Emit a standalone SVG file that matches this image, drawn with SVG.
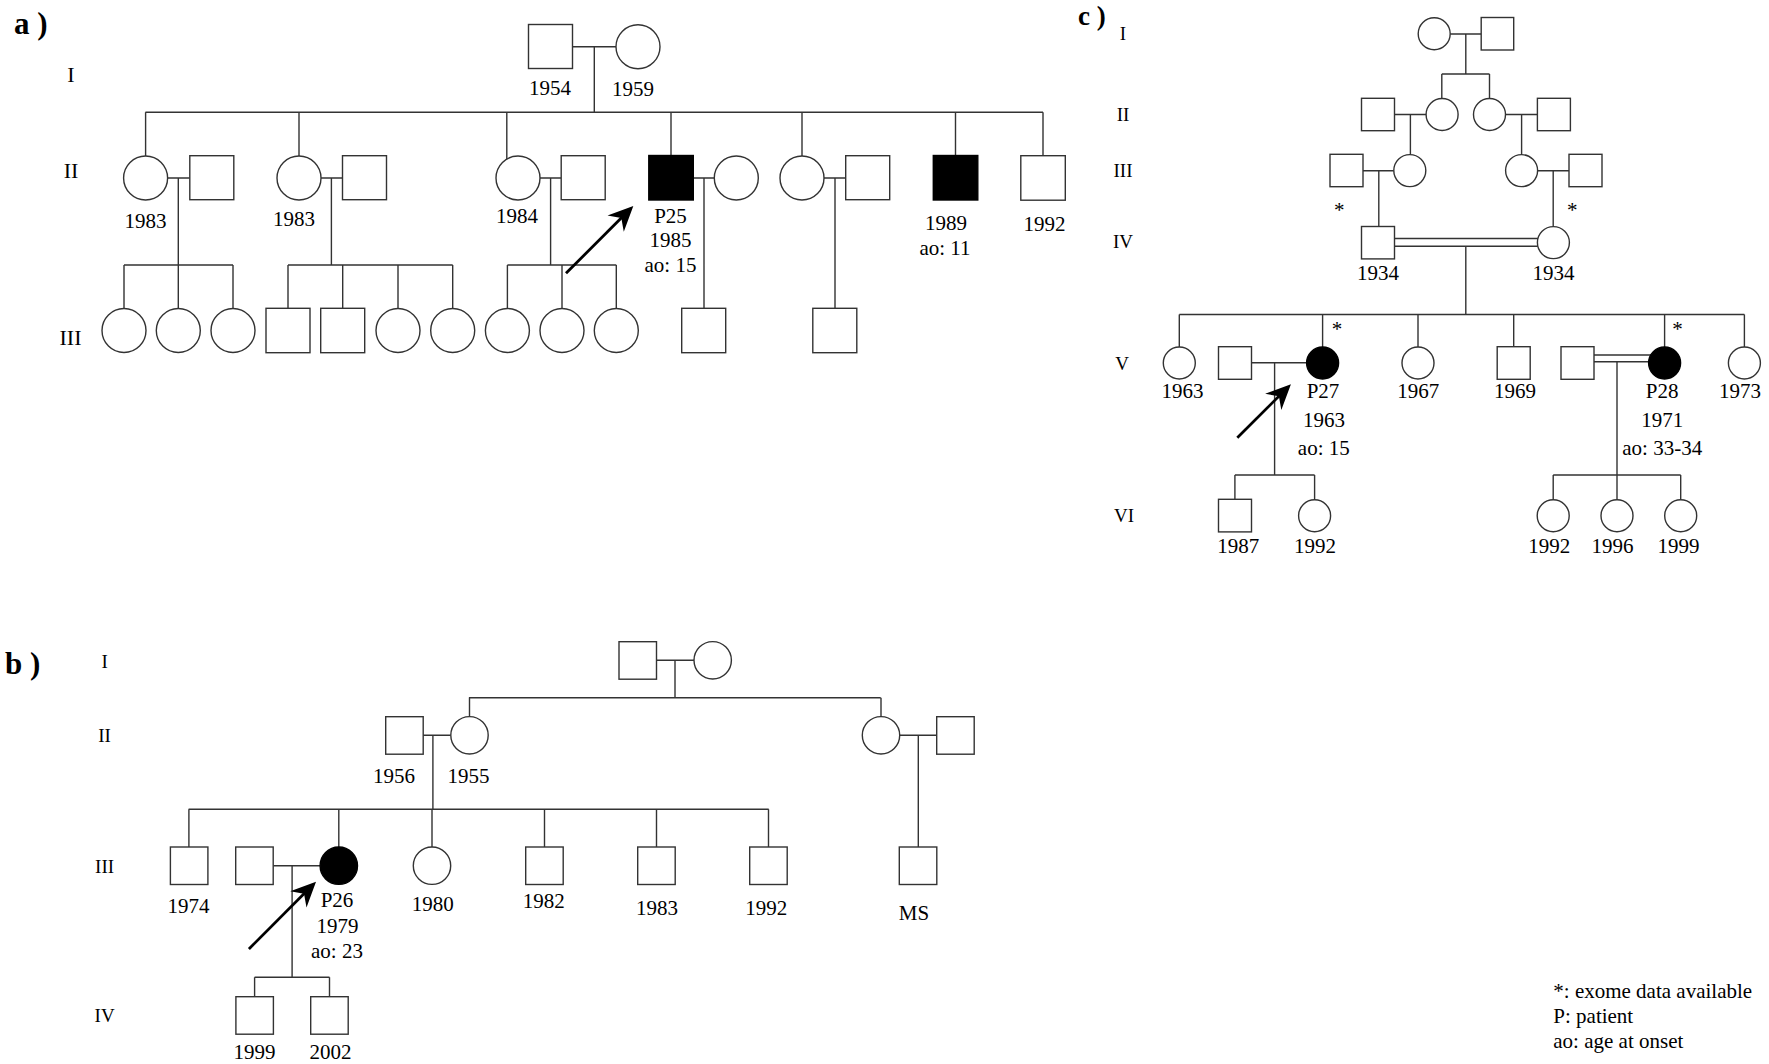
<svg xmlns="http://www.w3.org/2000/svg" width="1769" height="1064" viewBox="0 0 1769 1064">
<style>
.ln{stroke:#333;stroke-width:1.4;fill:none}
.nd{fill:#fff;stroke:#333;stroke-width:1.4}
.af{fill:#000;stroke:#000;stroke-width:1.4}
.ar{stroke:#000;stroke-width:2.8;fill:none}
text{font-family:"Liberation Serif","Times New Roman",serif;fill:#000}
.t{font-size:21px;text-anchor:middle}
.ga{font-size:22px;text-anchor:middle}
.gb{font-size:19px;text-anchor:middle}
.gc{font-size:19px;text-anchor:middle}
.pl{font-size:31px;font-weight:bold}
.pc{font-size:27px;font-weight:bold}
.lg{font-size:21px}
</style>
<defs>
<marker id="ah" markerUnits="userSpaceOnUse" viewBox="-28 -14 30 28" markerWidth="30" markerHeight="28" refX="-4" refY="0" orient="auto">
<path d="M0,0 L-25,-11.5 L-17,0 L-25,11.5 Z" fill="#000"/>
</marker>
</defs>
<rect width="1769" height="1064" fill="#fff"/>

<!-- panel labels and generation labels -->
<g id="labels">
<text class="pl" x="14" y="33.5">a )</text>
<text class="pl" x="5" y="673.5">b )</text>
<text class="pc" x="1078" y="25">c )</text>
<text class="ga" x="71" y="82">I</text>
<text class="ga" x="71" y="178">II</text>
<text class="ga" x="70.5" y="345">III</text>
<text class="gb" x="104.6" y="667.7">I</text>
<text class="gb" x="104.6" y="741.7">II</text>
<text class="gb" x="104.6" y="872.7">III</text>
<text class="gb" x="104.6" y="1021.7">IV</text>
<text class="gc" x="1123" y="40">I</text>
<text class="gc" x="1123" y="120.7">II</text>
<text class="gc" x="1123" y="176.7">III</text>
<text class="gc" x="1123" y="248.3">IV</text>
<text class="gc" x="1122" y="370">V</text>
<text class="gc" x="1124" y="521.7">VI</text>
</g>

<!-- connectors -->
<g id="connectors">
<!-- panel a -->
<path class="ln" d="M572.5,46.7H616 M594.3,46.7V112.3 M145.4,112.3H1043
M145.6,112.3V156 M299,112.3V156 M506.8,112.3V159 M671,112.3V155.5 M802,112.3V156 M955.5,112.3V155.5 M1043,112.3V155.7
M167.6,178H189.8 M178.3,178V308.3 M124,265H233 M124,265V308.5 M233,265V308.5
M321,178H342.5 M331.4,178V265 M288,265H452.7 M288,265V308.3 M342.7,265V308.3 M398,265V308.5 M452.7,265V308.5
M540,178H561.2 M550.6,178V265 M507.4,265H616.3 M507.4,265V308.5 M562,265V308.5 M616.3,265V308.5
M693.3,178H714.3 M704,178V308.3
M824,178H845.7 M835,178V308.3"/>
<!-- panel b -->
<path class="ln" d="M656.7,660.3H694 M675,660.3V697.7 M468.9,697.7H880.7 M469.5,697.7V716.7 M881,697.7V716.7
M413.2,735.3H450.8 M432.9,735.3V809.3 M899.7,735.3H936.7 M918.3,735.3V847
M188.6,809.3H768.7 M188.9,809.3V847 M338.8,809.3V847 M432,809.3V847 M544.5,809.3V847 M656.5,809.3V847 M768.5,809.3V847
M273.2,865.7H320.1 M292.1,865.7V977.3 M254.6,977.3H329.5 M254.6,977.3V996.7 M329.5,977.3V996.7"/>
<!-- panel c -->
<path class="ln" d="M1450.2,34H1481.2 M1465.8,34V74 M1441.8,74H1489.5 M1441.8,74V98.5 M1489.5,74V98.5
M1394.4,114.5H1426.1 M1410.4,114.5V154.5 M1505.5,114.5H1537.4 M1521.6,114.5V154.5
M1363,170.7H1393.8 M1378.8,170.7V226.5 M1537.6,170.7H1569 M1553.2,170.7V226.5
M1394.5,238.5H1538.5 M1394.5,246.3H1538.5 M1465.8,246.3V314.5
M1179.3,314.5H1744.4 M1179.3,314.5V347 M1322.6,314.5V347 M1418,314.5V347 M1513.7,314.5V346.7 M1664.6,314.5V347 M1744.4,314.5V347
M1251.5,362.7H1306.6 M1274.6,362.7V475 M1234.9,475H1314.6 M1234.9,475V499.3 M1314.6,475V499.5
M1594,355H1651 M1594,361.7H1648.8 M1617,361.7V475 M1553.2,475H1680.7 M1553.2,475V499.5 M1617,475V499.5 M1680.7,475V499.5"/>
<!-- proband arrows -->
<path class="ar" marker-end="url(#ah)" d="M566,273.3L630.5,208.8"/>
<path class="ar" marker-end="url(#ah)" d="M248.9,949L313.2,884.5"/>
<path class="ar" marker-end="url(#ah)" d="M1237.3,437.7L1288.1,387.1"/>
</g>

<!-- ===== panel a nodes ===== -->
<g id="a-I-1"><rect class="nd" x="528.5" y="24.5" width="44" height="44"/><text class="t" x="550" y="95">1954</text></g>
<g id="a-I-2"><circle class="nd" cx="638" cy="46.7" r="22"/><text class="t" x="633" y="95.7">1959</text></g>
<g id="a-II-1"><circle class="nd" cx="145.6" cy="178" r="22"/><text class="t" x="145.4" y="228">1983</text></g>
<g id="a-II-2"><rect class="nd" x="189.8" y="155.7" width="44" height="44"/></g>
<g id="a-II-3"><circle class="nd" cx="299" cy="178" r="22"/><text class="t" x="294" y="226">1983</text></g>
<g id="a-II-4"><rect class="nd" x="342.5" y="155.7" width="44" height="44"/></g>
<g id="a-II-5"><circle class="nd" cx="518" cy="178" r="22"/><text class="t" x="517" y="223">1984</text></g>
<g id="a-II-6"><rect class="nd" x="561.2" y="155.7" width="44" height="44"/></g>
<g id="a-P25"><rect class="af" x="648.8" y="155.5" width="44.5" height="44.5"/><text class="t" x="670.5" y="222.7">P25</text><text class="t" x="670.5" y="247.3">1985</text><text class="t" x="670.5" y="271.7">ao: 15</text></g>
<g id="a-II-8"><circle class="nd" cx="736.3" cy="178" r="22"/></g>
<g id="a-II-9"><circle class="nd" cx="802" cy="178" r="22"/></g>
<g id="a-II-10"><rect class="nd" x="845.7" y="155.7" width="44" height="44"/></g>
<g id="a-II-11"><rect class="af" x="933.3" y="155.5" width="44.5" height="44.5"/><text class="t" x="946" y="230">1989</text><text class="t" x="945" y="255">ao: 11</text></g>
<g id="a-II-12"><rect class="nd" x="1020.8" y="155.7" width="44.5" height="44.5"/><text class="t" x="1044.5" y="231">1992</text></g>
<g id="a-III-1"><circle class="nd" cx="124" cy="330.5" r="22"/></g>
<g id="a-III-2"><circle class="nd" cx="178.3" cy="330.5" r="22"/></g>
<g id="a-III-3"><circle class="nd" cx="233" cy="330.5" r="22"/></g>
<g id="a-III-4"><rect class="nd" x="266" y="308.3" width="44" height="44.4"/></g>
<g id="a-III-5"><rect class="nd" x="320.7" y="308.3" width="44" height="44.4"/></g>
<g id="a-III-6"><circle class="nd" cx="398" cy="330.5" r="22"/></g>
<g id="a-III-7"><circle class="nd" cx="452.7" cy="330.5" r="22"/></g>
<g id="a-III-8"><circle class="nd" cx="507.4" cy="330.5" r="22"/></g>
<g id="a-III-9"><circle class="nd" cx="562" cy="330.5" r="22"/></g>
<g id="a-III-10"><circle class="nd" cx="616.3" cy="330.5" r="22"/></g>
<g id="a-III-11"><rect class="nd" x="681.7" y="308.3" width="44" height="44.4"/></g>
<g id="a-III-12"><rect class="nd" x="812.8" y="308.3" width="44" height="44.4"/></g>

<!-- ===== panel b nodes ===== -->
<g id="b-I-1"><rect class="nd" x="619" y="641.7" width="37.5" height="37.5"/></g>
<g id="b-I-2"><circle class="nd" cx="712.7" cy="660.3" r="18.7"/></g>
<g id="b-II-1"><rect class="nd" x="385.7" y="716.7" width="37.5" height="37.5"/><text class="t" x="394" y="782.7">1956</text></g>
<g id="b-II-2"><circle class="nd" cx="469.5" cy="735.3" r="18.7"/><text class="t" x="468.4" y="782.7">1955</text></g>
<g id="b-II-3"><circle class="nd" cx="881" cy="735.3" r="18.7"/></g>
<g id="b-II-4"><rect class="nd" x="936.7" y="716.7" width="37.5" height="37.5"/></g>
<g id="b-III-1"><rect class="nd" x="170.4" y="847" width="37.5" height="37.5"/><text class="t" x="188.4" y="913.3">1974</text></g>
<g id="b-III-2"><rect class="nd" x="235.7" y="847" width="37.5" height="37.5"/></g>
<g id="b-P26"><circle class="af" cx="338.8" cy="865.7" r="18.7"/><text class="t" x="337" y="907.3">P26</text><text class="t" x="337.5" y="933.3">1979</text><text class="t" x="337" y="957.7">ao: 23</text></g>
<g id="b-III-4"><circle class="nd" cx="432" cy="865.7" r="18.7"/><text class="t" x="432.7" y="910.7">1980</text></g>
<g id="b-III-5"><rect class="nd" x="525.7" y="847" width="37.5" height="37.5"/><text class="t" x="543.8" y="908.3">1982</text></g>
<g id="b-III-6"><rect class="nd" x="637.7" y="847" width="37.5" height="37.5"/><text class="t" x="657" y="915">1983</text></g>
<g id="b-III-7"><rect class="nd" x="749.7" y="847" width="37.5" height="37.5"/><text class="t" x="766.3" y="915">1992</text></g>
<g id="b-III-8"><rect class="nd" x="899.3" y="847" width="37.5" height="37.5"/><text class="t" x="914" y="920">MS</text></g>
<g id="b-IV-1"><rect class="nd" x="235.9" y="996.7" width="37.5" height="37.5"/><text class="t" x="254.6" y="1059.3">1999</text></g>
<g id="b-IV-2"><rect class="nd" x="310.7" y="996.7" width="37.5" height="37.5"/><text class="t" x="330.4" y="1059.3">2002</text></g>

<!-- ===== panel c nodes ===== -->
<g id="c-I-1"><circle class="nd" cx="1434.2" cy="33.8" r="16"/></g>
<g id="c-I-2"><rect class="nd" x="1481.2" y="17.5" width="32.5" height="32.5"/></g>
<g id="c-II-1"><rect class="nd" x="1361.5" y="98.3" width="33" height="32.4"/></g>
<g id="c-II-2"><circle class="nd" cx="1442.1" cy="114.5" r="16"/></g>
<g id="c-II-3"><circle class="nd" cx="1489.5" cy="114.5" r="16"/></g>
<g id="c-II-4"><rect class="nd" x="1537.4" y="98.3" width="33" height="32.4"/></g>
<g id="c-III-1"><rect class="nd" x="1330" y="154.3" width="33" height="32.4"/><text class="t" x="1339.3" y="217">*</text></g>
<g id="c-III-2"><circle class="nd" cx="1409.8" cy="170.6" r="16"/></g>
<g id="c-III-3"><circle class="nd" cx="1521.6" cy="170.6" r="16"/></g>
<g id="c-III-4"><rect class="nd" x="1569" y="154.3" width="33" height="32.4"/><text class="t" x="1572.3" y="217">*</text></g>
<g id="c-IV-1"><rect class="nd" x="1361.5" y="226.5" width="33" height="32.4"/><text class="t" x="1378" y="279.5">1934</text></g>
<g id="c-IV-2"><circle class="nd" cx="1553.4" cy="242.6" r="16"/><text class="t" x="1553.5" y="279.5">1934</text></g>
<g id="c-V-1"><circle class="nd" cx="1179.3" cy="363" r="16"/><text class="t" x="1182.6" y="398.3">1963</text></g>
<g id="c-V-2"><rect class="nd" x="1218.5" y="346.7" width="33" height="32.6"/></g>
<g id="c-P27"><circle class="af" cx="1322.6" cy="363" r="16"/><text class="t" x="1337" y="336.4">*</text><text class="t" x="1323" y="398.3">P27</text><text class="t" x="1324" y="426.7">1963</text><text class="t" x="1323.8" y="455">ao: 15</text></g>
<g id="c-V-4"><circle class="nd" cx="1418" cy="363" r="16"/><text class="t" x="1418.3" y="398.3">1967</text></g>
<g id="c-V-5"><rect class="nd" x="1497.2" y="346.7" width="33" height="32.6"/><text class="t" x="1515" y="398.3">1969</text></g>
<g id="c-V-6"><rect class="nd" x="1561" y="346.7" width="33" height="32.6"/></g>
<g id="c-P28"><circle class="af" cx="1664.6" cy="363" r="16"/><text class="t" x="1677.6" y="336.4">*</text><text class="t" x="1662.2" y="398.3">P28</text><text class="t" x="1662.2" y="426.7">1971</text><text class="t" x="1662.2" y="455">ao: 33-34</text></g>
<g id="c-V-8"><circle class="nd" cx="1744.4" cy="363" r="16"/><text class="t" x="1740" y="398.3">1973</text></g>
<g id="c-VI-1"><rect class="nd" x="1218.5" y="499.3" width="33" height="32.6"/><text class="t" x="1238.2" y="553.3">1987</text></g>
<g id="c-VI-2"><circle class="nd" cx="1314.6" cy="515.7" r="16"/><text class="t" x="1315" y="553.3">1992</text></g>
<g id="c-VI-3"><circle class="nd" cx="1553.2" cy="515.7" r="16"/><text class="t" x="1549.3" y="553.3">1992</text></g>
<g id="c-VI-4"><circle class="nd" cx="1617" cy="515.7" r="16"/><text class="t" x="1612.5" y="553.3">1996</text></g>
<g id="c-VI-5"><circle class="nd" cx="1680.7" cy="515.7" r="16"/><text class="t" x="1678.5" y="553.3">1999</text></g>

<!-- legend -->
<g id="legend">
<text class="lg" x="1553.3" y="998.3">*: exome data available</text>
<text class="lg" x="1553.3" y="1023.3">P: patient</text>
<text class="lg" x="1553.3" y="1048.3">ao: age at onset</text>
</g>
</svg>
